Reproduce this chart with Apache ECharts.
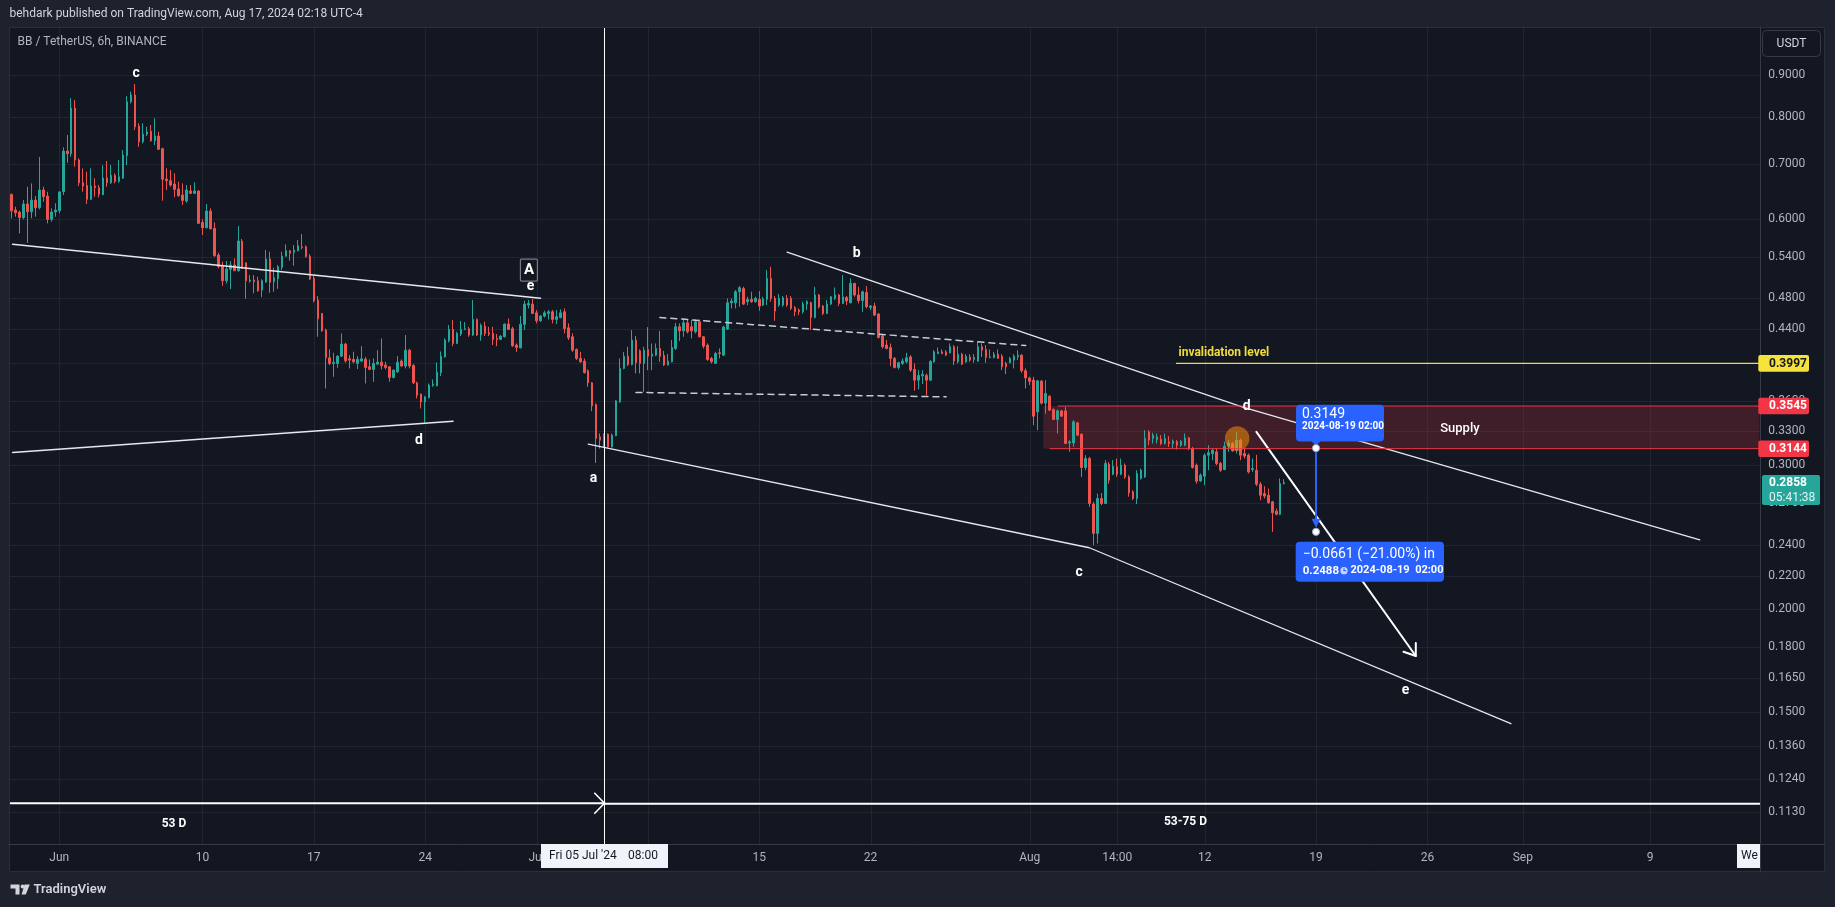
<!DOCTYPE html>
<html>
<head>
<meta charset="utf-8">
<title>BB / TetherUS 6h</title>
<script src="https://cdn.jsdelivr.net/npm/echarts@6.0.0/dist/echarts.min.js"></script>
<style>
html,body{margin:0;padding:0;background:#1e222d;overflow:hidden;}
#chart{width:1835px;height:907px;}
</style>
</head>
<body>
<div id="chart"></div>
<script>
// ---------------- data ----------------
const publishLine = 'behdark published on TradingView.com, Aug 17, 2024 02:18 UTC-4';
const symbolTitle = 'BB / TetherUS, 6h, BINANCE';
const currencyLabel = 'USDT';
const firstCandle = '2024-05-29 02:00';   // 6h bars, chart time UTC-4
const slotCount = 440;                    // bars + empty future slots shown
// [open, high, low, close]
const candles = [
 [0.643,0.645,0.601,0.614],[0.6154,0.6212,0.6040,0.6108],[0.6120,0.6142,0.5763,0.6025],[0.6025,0.6330,0.5995,0.6260],
 [0.6260,0.6572,0.5613,0.6125],[0.6125,0.6634,0.6013,0.6330],[0.6330,0.6402,0.6040,0.6194],[0.6194,0.7145,0.6166,0.6511],
 [0.6511,0.6572,0.6300,0.6390],[0.6402,0.6480,0.5928,0.5995],[0.5995,0.6183,0.5956,0.6120],[0.6120,0.6273,0.6040,0.6154],
 [0.6142,0.6493,0.6097,0.6475],[0.6480,0.7343,0.6420,0.7265],[0.7265,0.7601,0.7032,0.7213],[0.7213,0.8436,0.7151,0.8201],
 [0.8201,0.8388,0.6953,0.7085],[0.7085,0.7118,0.6584,0.6646],[0.6646,0.6921,0.6480,0.6584],[0.6597,0.6856,0.6260,0.6342],
 [0.6342,0.6921,0.6330,0.6584],[0.6584,0.6729,0.6390,0.6553],[0.6553,0.6603,0.6379,0.6433],[0.6425,0.6980,0.6420,0.6735],
 [0.6735,0.7065,0.6572,0.6646],[0.6646,0.6986,0.6622,0.6786],[0.6786,0.6824,0.6634,0.6672],[0.6672,0.7085,0.6646,0.6760],
 [0.6735,0.7287,0.6716,0.7185],[0.7171,0.8481,0.6986,0.8348],[0.8348,0.8588,0.8310,0.8507],[0.8507,0.8775,0.7709,0.7781],
 [0.7796,0.7856,0.7355,0.7460],[0.7460,0.7856,0.7425,0.7622],[0.7622,0.7781,0.7580,0.7666],[0.7680,0.7818,0.7460,0.7481],
 [0.7481,0.7967,0.7390,0.7580],[0.7580,0.7672,0.7287,0.7302],[0.7314,0.7334,0.6318,0.6710],[0.6716,0.6921,0.6511,0.6684],
 [0.6684,0.6888,0.6572,0.6603],[0.6622,0.6824,0.6379,0.6524],[0.6530,0.6665,0.6390,0.6407],[0.6420,0.6634,0.6242,0.6324],
 [0.6312,0.6603,0.6282,0.6511],[0.6493,0.6603,0.6438,0.6451],[0.6451,0.6653,0.6438,0.6493],[0.6493,0.6511,0.5916,0.5928],
 [0.5944,0.5995,0.5736,0.5856],[0.5856,0.6260,0.5845,0.6137],[0.6137,0.6183,0.5828,0.5838],[0.5845,0.5944,0.5396,0.5411],
 [0.5422,0.5457,0.5223,0.5247],[0.5262,0.5321,0.4973,0.5044],[0.5044,0.5331,0.5006,0.5213],[0.5208,0.5331,0.4927,0.5272],
 [0.5272,0.5371,0.5184,0.5188],[0.5188,0.5884,0.5174,0.5640],[0.5640,0.5672,0.5213,0.5223],[0.5306,0.5306,0.4794,0.5044],
 [0.5040,0.5125,0.5016,0.5054],[0.5054,0.5125,0.4868,0.5030],[0.5044,0.5101,0.4890,0.4903],[0.4913,0.5064,0.4816,0.5044],
 [0.5026,0.5499,0.5016,0.5361],[0.5361,0.5473,0.4876,0.5021],[0.5030,0.5232,0.4890,0.5087],[0.5073,0.5272,0.4931,0.5247],
 [0.5237,0.5473,0.5198,0.5405],[0.5405,0.5588,0.5396,0.5488],[0.5488,0.5499,0.5336,0.5448],[0.5464,0.5577,0.5262,0.5499],
 [0.5488,0.5656,0.5479,0.5566],[0.5550,0.5752,0.5510,0.5540],[0.5550,0.5572,0.5386,0.5396],[0.5405,0.5437,0.5054,0.5068],
 [0.5078,0.5111,0.4746,0.4768],[0.4777,0.4831,0.4308,0.4531],[0.4600,0.4608,0.4369,0.4381],[0.4390,0.4406,0.3725,0.4060],
 [0.4060,0.4157,0.3978,0.3997],[0.3997,0.4118,0.3849,0.4008],[0.3997,0.4091,0.3948,0.4079],[0.4079,0.4349,0.4071,0.4220],
 [0.4220,0.4236,0.4004,0.4026],[0.4049,0.4091,0.3941,0.4034],[0.4042,0.4130,0.3997,0.4015],[0.3997,0.4079,0.3933,0.4045],
 [0.4023,0.4196,0.4015,0.4049],[0.4045,0.4071,0.3778,0.3952],[0.3959,0.4042,0.3922,0.3930],[0.3930,0.4053,0.3796,0.3997],
 [0.3989,0.4149,0.3978,0.4011],[0.4011,0.4288,0.3930,0.3970],[0.3978,0.4015,0.3930,0.3952],[0.3959,0.3967,0.3796,0.3842],
 [0.3842,0.3930,0.3831,0.3922],[0.3903,0.4079,0.3893,0.4011],[0.4023,0.4042,0.3959,0.3967],[0.3967,0.4329,0.3941,0.4149],
 [0.4149,0.4164,0.3941,0.3967],[0.3974,0.3989,0.3771,0.3784],[0.3784,0.3796,0.3621,0.3655],[0.3665,0.3672,0.3521,0.3587],
 [0.3587,0.3645,0.3381,0.3637],[0.3630,0.3778,0.3621,0.3760],[0.3760,0.3820,0.3742,0.3771],[0.3752,0.4008,0.3749,0.3897],
 [0.3893,0.4134,0.3856,0.4079],[0.4071,0.4288,0.4064,0.4268],[0.4260,0.4452,0.4240,0.4398],[0.4398,0.4515,0.4196,0.4228],
 [0.4228,0.4369,0.4220,0.4349],[0.4341,0.4503,0.4317,0.4398],[0.4398,0.4490,0.4390,0.4406],[0.4406,0.4431,0.4308,0.4329],
 [0.4329,0.4777,0.4320,0.4524],[0.4524,0.4536,0.4317,0.4329],[0.4329,0.4473,0.4260,0.4448],[0.4439,0.4494,0.4317,0.4349],
 [0.4357,0.4431,0.4317,0.4341],[0.4349,0.4431,0.4208,0.4276],[0.4288,0.4341,0.4196,0.4276],[0.4276,0.4325,0.4268,0.4317],
 [0.4308,0.4473,0.4300,0.4465],[0.4465,0.4536,0.4390,0.4398],[0.4406,0.4431,0.4188,0.4200],[0.4208,0.4228,0.4129,0.4180],
 [0.4176,0.4566,0.4169,0.4461],[0.4461,0.4768,0.4390,0.4723],[0.4710,0.4777,0.4666,0.4732],[0.4723,0.4790,0.4592,0.4600],
 [0.4608,0.4644,0.4473,0.4506],[0.4506,0.4579,0.4494,0.4566],[0.4566,0.4635,0.4549,0.4608],[0.4600,0.4644,0.4524,0.4622],
 [0.4622,0.4644,0.4473,0.4524],[0.4524,0.4644,0.4465,0.4558],[0.4549,0.4653,0.4536,0.4608],[0.4622,0.4666,0.4349,0.4410],
 [0.4418,0.4473,0.4268,0.4296],[0.4308,0.4349,0.4129,0.4149],[0.4157,0.4169,0.4034,0.4053],[0.4053,0.4129,0.4004,0.4015],
 [0.4023,0.4053,0.3886,0.3893],[0.3915,0.3930,0.3742,0.3784],[0.3784,0.3792,0.3494,0.3547],[0.3561,0.3571,0.3021,0.3236],
 [0.3250,0.3281,0.3146,0.3220],[0.3226,0.3281,0.3160,0.3257],[0.3275,0.3281,0.3154,0.3160],[0.3160,0.3281,0.3154,0.3266],
 [0.3260,0.3604,0.3257,0.3597],[0.3587,0.4053,0.3577,0.3941],[0.3941,0.4129,0.3930,0.4079],[0.4079,0.4188,0.3967,0.3985],
 [0.3985,0.4390,0.3974,0.4268],[0.4268,0.4317,0.3886,0.4004],[0.4141,0.4157,0.3886,0.3997],[0.3997,0.4188,0.3689,0.4149],
 [0.4157,0.4427,0.3922,0.4079],[0.4079,0.4228,0.3922,0.4102],[0.4091,0.4228,0.4079,0.4169],[0.4169,0.4378,0.4015,0.4079],
 [0.4087,0.4141,0.3967,0.3978],[0.3978,0.4102,0.3974,0.4023],[0.4015,0.4268,0.4008,0.4180],[0.4169,0.4481,0.4153,0.4431],
 [0.4431,0.4473,0.4256,0.4381],[0.4381,0.4536,0.4308,0.4481],[0.4481,0.4524,0.4349,0.4369],[0.4431,0.4515,0.4288,0.4381],
 [0.4369,0.4524,0.4349,0.4494],[0.4494,0.4524,0.4300,0.4308],[0.4308,0.4317,0.4169,0.4196],[0.4208,0.4228,0.4026,0.4042],
 [0.4053,0.4071,0.3997,0.4015],[0.3997,0.4129,0.3997,0.4110],[0.4118,0.4169,0.4053,0.4110],[0.4091,0.4444,0.4079,0.4427],
 [0.4402,0.4800,0.4390,0.4741],[0.4741,0.4800,0.4666,0.4764],[0.4741,0.4913,0.4666,0.4890],[0.4890,0.4969,0.4688,0.4945],
 [0.4936,0.4959,0.4710,0.4723],[0.4755,0.4821,0.4710,0.4786],[0.4786,0.4890,0.4741,0.4755],[0.4755,0.4821,0.4741,0.4800],
 [0.4786,0.4899,0.4635,0.4697],[0.4710,0.4821,0.4697,0.4790],[0.4786,0.5198,0.4710,0.5078],[0.5078,0.5247,0.4755,0.4800],
 [0.4800,0.4831,0.4506,0.4631],[0.4710,0.4858,0.4688,0.4800],[0.4710,0.4831,0.4688,0.4808],[0.4800,0.4845,0.4688,0.4710],
 [0.4800,0.4831,0.4644,0.4666],[0.4675,0.4697,0.4566,0.4622],[0.4644,0.4666,0.4579,0.4622],[0.4622,0.4755,0.4600,0.4723],
 [0.4723,0.4777,0.4644,0.4755],[0.4741,0.4755,0.4390,0.4549],[0.4549,0.4959,0.4536,0.4845],[0.4845,0.4858,0.4666,0.4688],
 [0.4697,0.4710,0.4579,0.4600],[0.4600,0.4777,0.4592,0.4723],[0.4723,0.4831,0.4710,0.4821],[0.4800,0.4950,0.4777,0.4845],
 [0.4845,0.4858,0.4697,0.4732],[0.4732,0.5125,0.4723,0.4821],[0.4812,0.4831,0.4710,0.4764],[0.4741,0.5078,0.4732,0.5006],
 [0.5006,0.5016,0.4821,0.4845],[0.4845,0.4959,0.4732,0.4768],[0.4768,0.4904,0.4622,0.4890],[0.4881,0.4969,0.4666,0.4688],
 [0.4679,0.4710,0.4644,0.4697],[0.4697,0.4741,0.4566,0.4579],[0.4592,0.4608,0.4288,0.4300],[0.4317,0.4341,0.4169,0.4188],
 [0.4208,0.4268,0.4157,0.4169],[0.4180,0.4228,0.3967,0.4053],[0.4053,0.4071,0.3941,0.3952],[0.3952,0.4015,0.3930,0.4004],
 [0.3997,0.4053,0.3978,0.4023],[0.4015,0.4118,0.3997,0.4060],[0.4071,0.4091,0.3903,0.3922],[0.3930,0.3997,0.3700,0.3813],
 [0.3813,0.3922,0.3715,0.3864],[0.3860,0.3922,0.3771,0.3875],[0.3864,0.3886,0.3655,0.3813],[0.3813,0.4034,0.3806,0.4019],
 [0.4015,0.4149,0.4004,0.4129],[0.4110,0.4180,0.4102,0.4129],[0.4129,0.4157,0.4102,0.4110],[0.4129,0.4149,0.4079,0.4091],
 [0.4118,0.4228,0.4110,0.4188],[0.4188,0.4208,0.3978,0.4023],[0.4015,0.4196,0.3997,0.4102],[0.4102,0.4118,0.3978,0.3989],
 [0.4015,0.4102,0.4004,0.4079],[0.4071,0.4102,0.4015,0.4034],[0.4042,0.4102,0.4004,0.4064],[0.4023,0.4248,0.4015,0.4188],
 [0.4188,0.4228,0.4071,0.4149],[0.4157,0.4208,0.4004,0.4064],[0.4064,0.4157,0.4053,0.4071],[0.4064,0.4129,0.4053,0.4102],
 [0.4102,0.4157,0.4053,0.4053],[0.4079,0.4102,0.3922,0.3959],[0.3997,0.4015,0.3878,0.3959],[0.4004,0.4071,0.3997,0.4053],
 [0.4034,0.4102,0.3941,0.4079],[0.4071,0.4149,0.4034,0.4091],[0.4091,0.4102,0.3893,0.3915],[0.3915,0.3941,0.3725,0.3837],
 [0.3837,0.3849,0.3760,0.3800],[0.3813,0.3849,0.3359,0.3445],[0.3487,0.3813,0.3312,0.3806],[0.3803,0.3813,0.3560,0.3574],
 [0.3574,0.3813,0.3469,0.3672],[0.3645,0.3655,0.3497,0.3504],[0.3511,0.3521,0.3407,0.3414],[0.3414,0.3511,0.3281,0.3497],
 [0.3497,0.3504,0.3439,0.3445],[0.3497,0.3537,0.3190,0.3190],[0.3195,0.3220,0.3116,0.3205],[0.3195,0.3407,0.3160,0.3391],
 [0.3381,0.3391,0.3257,0.3266],[0.3275,0.3281,0.2904,0.2982],[0.2982,0.3087,0.2959,0.3058],[0.3058,0.3073,0.2670,0.2695],
 [0.2690,0.2707,0.2396,0.2477],[0.2477,0.2771,0.2407,0.2733],[0.2733,0.2775,0.2682,0.2695],[0.2695,0.3044,0.2690,0.3016],
 [0.3010,0.3029,0.2850,0.2877],[0.2926,0.3044,0.2918,0.2993],[0.2987,0.3058,0.2904,0.2926],[0.2926,0.3058,0.2918,0.3001],
 [0.3001,0.3016,0.2888,0.2904],[0.2904,0.2918,0.2747,0.2777],[0.2785,0.2797,0.2720,0.2733],[0.2733,0.2959,0.2690,0.2932],
 [0.2891,0.2973,0.2882,0.2959],[0.2904,0.3312,0.2896,0.3235],[0.3297,0.3312,0.3175,0.3220],[0.3235,0.3288,0.3190,0.3266],
 [0.3226,0.3281,0.3190,0.3250],[0.3229,0.3266,0.3175,0.3190],[0.3190,0.3281,0.3181,0.3235],[0.3205,0.3257,0.3160,0.3190],
 [0.3190,0.3226,0.3146,0.3211],[0.3205,0.3220,0.3137,0.3175],[0.3175,0.3220,0.3160,0.3211],[0.3175,0.3281,0.3166,0.3241],
 [0.3241,0.3250,0.3131,0.3146],[0.3146,0.3160,0.2973,0.2982],[0.3001,0.3016,0.2850,0.2869],[0.2871,0.2932,0.2863,0.2918],
 [0.2910,0.3102,0.2837,0.3087],[0.3087,0.3175,0.2959,0.3108],[0.3102,0.3146,0.3044,0.3131],[0.3116,0.3146,0.3001,0.3016],
 [0.3016,0.3029,0.2945,0.2959],[0.2965,0.3205,0.2959,0.3166],[0.3166,0.3220,0.3116,0.3195],[0.3190,0.3205,0.3116,0.3125],
 [0.3131,0.3297,0.3102,0.3220],[0.3220,0.3235,0.3044,0.3087],[0.3102,0.3146,0.3058,0.3079],[0.3087,0.3102,0.2932,0.2945],
 [0.2965,0.3058,0.2945,0.2973],[0.2959,0.3090,0.2829,0.2845],[0.2845,0.2863,0.2720,0.2758],[0.2771,0.2829,0.2733,0.2751],
 [0.2758,0.2810,0.2695,0.2700],[0.2707,0.2715,0.2488,0.2625],[0.2637,0.2657,0.2607,0.2614],[0.2614,0.2891,0.2607,0.2850],
 [0.2850,0.2885,0.2842,0.2858]
];
const timeTicks = [
 ['2024-06-01 02:00','Jun'],['2024-06-10 02:00','10'],['2024-06-17 02:00','17'],['2024-06-24 02:00','24'],
 ['2024-07-01 02:00','Jul'],['2024-07-08 02:00','8'],['2024-07-15 02:00','15'],['2024-07-22 02:00','22'],
 ['2024-08-01 02:00','Aug'],['2024-08-06 14:00','14:00'],['2024-08-12 02:00','12'],['2024-08-19 02:00','19'],
 ['2024-08-26 02:00','26'],['2024-09-01 02:00','Sep'],['2024-09-09 02:00','9']
];
const priceTicks = [0.9,0.8,0.7,0.6,0.54,0.48,0.44,0.40,0.36,0.33,0.30,0.27,0.24,0.22,0.20,0.18,0.165,0.15,0.136,0.124,0.113];
const priceRange = [0.10334, 1.0302];
const lastPrice = 0.2858;
const countdown = '05:41:38';
// drawings
const leftTrendUpper = [['2024-05-29 03:30',0.5588],['2024-07-01 08:00',0.4801]];
const leftTrendLower = [['2024-05-29 03:30',0.3111],['2024-06-25 20:00',0.3397]];
const channelLower = [['2024-07-04 08:00',0.3184],['2024-08-04 20:00',0.2379],['2024-08-31 08:00',0.1450]];
const channelUpper = [['2024-07-16 20:00',0.5467],['2024-08-14 11:30',0.3534],['2024-09-12 05:00',0.2433]];
const rangeTop = [['2024-07-08 20:00',0.4549],['2024-07-31 20:00',0.4203]];
const rangeBottom = [['2024-07-07 08:00',0.3683],['2024-07-26 20:00',0.3638]];
const forecastArrow = [['2024-08-15 08:00',0.3296],['2024-08-25 08:30',0.1754]];
const waveLabels = [
 ['c','2024-06-05 22:00',0.9043],['e','2024-06-30 17:00',0.4969],['d','2024-06-23 16:30',0.3220],
 ['a','2024-07-04 16:00',0.2891],['b','2024-07-21 05:00',0.5448],['d','2024-08-14 17:30',0.3537],
 ['c','2024-08-04 04:30',0.2220],['e','2024-08-24 17:00',0.1592]
];
const boxedLabel = ['A','2024-06-30 14:30',0.5198];
const supplyPrices = [0.3545, 0.3144];
const supplyStart = '2024-08-01 22:30';
const supplyLineStarts = ['2024-08-02 21:00','2024-08-02 08:30'];
const supplyLabel = ['Supply','2024-08-28 03:00',0.3328];
const invalidationPrice = 0.3997;
const invalidationStart = '2024-08-10 07:30';
const invalidationLabel = ['invalidation level','2024-08-10 10:30',0.4117];
const highlightCircle = ['2024-08-14 03:00',0.3235];
const measure = [['2024-08-19 02:00',0.3149],['2024-08-19 02:00',0.2488]];
const measureTexts = ['0.3149','2024-08-19 02:00','\u22120.0661 (\u221221.00%) in','0.2488','2024-08-19  02:00'];
const cycleMarker = '2024-07-05 08:00';
const cycleMarkerText = ["Fri 05 Jul '24", '08:00'];
const cycleArrowPrice = 0.1159;
const cycleLabels = [['53 D','2024-06-08 07:00',0.1094],['53-75 D','2024-08-10 21:00',0.1098]];
const edgeTimeText = 'We';

// ---------------- helpers ----------------
const FONT = 'Roboto, "Noto Sans", sans-serif';
function p2(n){return (n<10?'0':'')+n;}
function parseT(s){const a=s.split(' ');const d=a[0].split('-').map(Number);const t=a[1].split(':').map(Number);return Date.UTC(d[0],d[1]-1,d[2],t[0],t[1]);}
function fmt(ms){const d=new Date(ms);return d.getUTCFullYear()+'-'+p2(d.getUTCMonth()+1)+'-'+p2(d.getUTCDate())+' '+p2(d.getUTCHours())+':'+p2(d.getUTCMinutes());}
const H6 = 6*3600*1000;
const T0 = parseT(firstCandle);
const idx = s => (parseT(s)-T0)/H6;
const categories = Array.from({length:slotCount},(_,i)=>fmt(T0+i*H6));
const tickMap = {}; timeTicks.forEach(t=>{tickMap[t[0]]=t[1];});
const kdata = candles.map(r=>[r[0],r[3],r[2],r[1]]);

const chart = echarts.init(document.getElementById('chart'), null, {renderer:'canvas', width:1835, height:907});
chart.setOption({
  backgroundColor:'#131722',
  animation:false,
  grid:{left:9.59, right:75.53, top:27, bottom:63, containLabel:false, outerBoundsMode:'none'},
  xAxis:[
    {type:'category', data:categories, boundaryGap:true,
     axisLine:{show:false}, axisTick:{show:false}, splitLine:{show:false},
     axisLabel:{interval:(i,v)=>Object.prototype.hasOwnProperty.call(tickMap,v),
                formatter:v=>tickMap[v]||'', color:'#b2b5be', fontSize:12, fontFamily:FONT, margin:8,
                hideOverlap:false}},
    {type:'value', min:-0.5, max:slotCount-0.5, show:false}
  ],
  yAxis:{type:'log', logBase:10, min:priceRange[0], max:priceRange[1], position:'right',
         axisLine:{show:false}, axisTick:{show:false}, axisLabel:{show:false}, splitLine:{show:false}},
  series:[{type:'candlestick', data:kdata, barWidth:2, z:2,
    itemStyle:{color:'#26a69a', color0:'#ef5350', borderColor:'#26a69a', borderColor0:'#ef5350', borderWidth:1}}]
});

// ---------------- drawings through the chart's scales ----------------
const G = [];
const P = (t,p)=>chart.convertToPixel({xAxisIndex:1,yAxisIndex:0},[typeof t==='number'?t:idx(t),p]);
const Xp = t => P(t,0.5)[0];
const Yp = p => P(0,p)[1];
const XL = Xp(-0.5), XR = Xp(slotCount-0.5);
const PL = 9, PT = 27, PR = 1825, PB = 872, AX = 1760, AY = 844;

function L(x1,y1,x2,y2,stroke,w,z,dash){G.push({type:'line',silent:true,z:z,shape:{x1:x1,y1:y1,x2:x2,y2:y2},style:{stroke:stroke,lineWidth:w,lineDash:dash||null,lineCap:'round'}});}
function PLN(pts,stroke,w,z,dash){G.push({type:'polyline',silent:true,z:z,shape:{points:pts},style:{stroke:stroke,lineWidth:w,fill:null,lineDash:dash||null,lineJoin:'round',lineCap:'round'}});}
function R(x,y,w,h,fill,z,stroke,r,lw){G.push({type:'rect',silent:true,z:z,shape:{x:x,y:y,width:w,height:h,r:r||0},style:{fill:fill||'none',stroke:stroke||null,lineWidth:lw||1}});}
function C(cx,cy,r,fill,z,stroke,lw){G.push({type:'circle',silent:true,z:z,shape:{cx:cx,cy:cy,r:r},style:{fill:fill,stroke:stroke||null,lineWidth:lw||1}});}
function PG(pts,fill,z){G.push({type:'polygon',silent:true,z:z,shape:{points:pts},style:{fill:fill}});}
function T(x,y,str,fill,font,align,z){G.push({type:'text',silent:true,z:z||20,x:x,y:y,style:{text:str,fill:fill,font:font,textAlign:align||'left',textVerticalAlign:'middle',align:align||'left',verticalAlign:'middle'}});}
function chevron(sx,sy,tx,ty,len,ang,stroke,w,z){
  const a=Math.atan2(ty-sy,tx-sx);
  PLN([[tx-len*Math.cos(a-ang),ty-len*Math.sin(a-ang)],[tx,ty],[tx-len*Math.cos(a+ang),ty-len*Math.sin(a+ang)]],stroke,w,z);
}
function path(pts,stroke,w,z,dash){PLN(pts.map(q=>P(q[0],q[1])),stroke,w,z,dash);}

// grid
const GRID = '#21252f';
priceTicks.forEach(v=>{const y=Math.round(Yp(v))+0.5; L(PL,y,AX,y,GRID,1,0);});
timeTicks.forEach(t=>{const x=Math.round(Xp(t[0]))+0.5; L(x,PT,x,AY,GRID,1,0);});

// supply zone (under candles)
const supTop = Yp(supplyPrices[0]), supBot = Yp(supplyPrices[1]);
R(Xp(supplyStart), supTop, XR-Xp(supplyStart), supBot-supTop, 'rgba(242,54,69,0.2)', 1);
L(Xp(supplyLineStarts[0]), supTop, XR, supTop, '#f23645', 1, 12);
L(Xp(supplyLineStarts[1]), supBot, XR, supBot, '#f23645', 1, 12);

// invalidation level
const invY = Yp(invalidationPrice);
L(Xp(invalidationStart), invY, XR, invY, '#f2dc3a', 1.2, 12);
{const q=P(invalidationLabel[1],invalidationLabel[2]); T(q[0],q[1],invalidationLabel[0],'#f2dc3a','bold 12px '+FONT,'left',20);}

// trend lines
const WL = '#e6e8ee';
path(leftTrendUpper, WL, 1.5, 10);
path(leftTrendLower, WL, 1.5, 10);
path(channelLower, WL, 1.3, 10);
path(channelUpper, WL, 1.3, 10);
path(rangeTop, '#c8cbd3', 1.5, 10, [6,5]);
path(rangeBottom, '#c8cbd3', 1.5, 10, [6,5]);
{const a=P(forecastArrow[0][0],forecastArrow[0][1]), b=P(forecastArrow[1][0],forecastArrow[1][1]);
 L(a[0],a[1],b[0],b[1],'#ffffff',2,10); chevron(a[0],a[1],b[0],b[1],13,0.62,'#ffffff',2,10);}

// highlight circle
{const q=P(highlightCircle[0],highlightCircle[1]); C(q[0],q[1],12.3,'rgba(255,152,0,0.5)',11);}

// wave labels
waveLabels.forEach(w=>{const q=P(w[1],w[2]); T(q[0],q[1],w[0],'#ffffff','bold 14px '+FONT,'center',20);});
{const q=P(boxedLabel[1],boxedLabel[2]); R(q[0]-8.5,q[1]-11,17,22,'#131722',19,'#787b86',1,1.2); T(q[0],q[1]+0.5,boxedLabel[0],'#ffffff','bold 15px '+FONT,'center',20);}
{const q=P(supplyLabel[1],supplyLabel[2]); T(q[0],q[1],supplyLabel[0],'#ffffff','500 13px '+FONT,'center',20);}

// cycle marker (vertical line + horizontal arrow)
const cx = Math.round(Xp(cycleMarker))+0.5;
L(cx, PT, cx, AY, '#ffffff', 1, 15);
const cyA = Yp(cycleArrowPrice);
L(XL+1, cyA, cx, cyA, '#ffffff', 2, 10);
chevron(XL, cyA, cx, cyA, 14, 0.8, '#ffffff', 1.6, 10);
L(cx, cyA+0.6, XR, cyA+0.6, '#ffffff', 2, 10);
cycleLabels.forEach(c=>{const q=P(c[1],c[2]); T(q[0],q[1],c[0],'#ffffff','bold 12px '+FONT,'center',20);});

// measure tool
{
 const a=P(measure[0][0],measure[0][1]), b=P(measure[1][0],measure[1][1]);
 const x=Math.round(a[0]);
 L(x,a[1],x,b[1]-9,'#2962ff',2,30);
 PG([[x-4.5,b[1]-13],[x+4.5,b[1]-13],[x,b[1]-4]],'#2962ff',30);
 C(x,a[1],3.6,'#ffffff',31,'#9aa4c0',1); C(x,b[1],3.6,'#ffffff',31,'#9aa4c0',1);
 R(x-20,a[1]-43.3,88,36.7,'#2962ff',30,null,4);
 PG([[x-5,a[1]-7],[x+5,a[1]-7],[x,a[1]-2.5]],'#2962ff',30);
 T(x-14,a[1]-33.6,measureTexts[0],'#ffffff','14px '+FONT,'left',32);
 T(x-14,a[1]-21.3,measureTexts[1],'#ffffff','bold 10px '+FONT,'left',32);
 R(x-20.3,b[1]+10,148.3,40,'#2962ff',30,null,4);
 T(x-13.3,b[1]+22.8,measureTexts[2],'#ffffff','14px '+FONT,'left',32);
 T(x-13.3,b[1]+38.8,measureTexts[3],'#ffffff','bold 11.5px '+FONT,'left',32);
 C(x+28,b[1]+38.8,3.6,'#c9d3ff',32);
 L(x+28,b[1]+36.8,x+28,b[1]+38.8,'#2962ff',1,33); L(x+28,b[1]+38.8,x+29.7,b[1]+38.8,'#2962ff',1,33);
 T(x+34.5,b[1]+38.8,measureTexts[4],'#ffffff','bold 11px '+FONT,'left',32);
}

// frame around the panel
R(0,0,1835,PT,'#1e222d',90);
R(0,PB,1835,907-PB,'#1e222d',90);
R(0,0,PL,907,'#1e222d',90);
R(PR,0,1835-PR,907,'#1e222d',90);
R(PL+0.5,PT+0.5,PR-PL-1,PB-PT-1,'none',91,'#2a2e39',0,1);
L(AX+0.5,PT,AX+0.5,PB,'#363a45',1,91);
L(PL,AY+0.5,PR,AY+0.5,'#363a45',1,91);

// header / title / footer
T(9.5,14,publishLine,'#d1d4dc','12px '+FONT,'left',95);
T(17.5,42,symbolTitle,'#b2b5be','12px '+FONT,'left',95);
PG([[10.5,884.5],[19.5,884.5],[19.5,894.5],[15.5,894.5],[15.5,888.5],[10.5,888.5]],'#d1d4dc',95);
C(22.6,886.5,2,'#d1d4dc',95);
PG([[24.5,884.5],[29.8,884.5],[25.8,894.5],[21.6,894.5]],'#d1d4dc',95);
T(33.5,890,'TradingView','#d1d4dc','600 13px '+FONT,'left',95);

// price scale labels
R(1762.5,30.5,58,26,'none',95,'#363a45',4,1);
T(1791.5,44,currencyLabel,'#d1d4dc','12px '+FONT,'center',95);
priceTicks.forEach(v=>{T(1768.3,Yp(v),v.toFixed(4),'#b2b5be','12px '+FONT,'left',95);});
function tag(v,bg,fg,x0,w){const y=Yp(v); R(x0,y-8.3,w,16.6,bg,96,null,2); T(1769,y+0.3,v.toFixed(4),fg,'bold 12px '+FONT,'left',97);}
tag(invalidationPrice,'#f5e23b','#131722',1758.3,50.7);
tag(supplyPrices[0],'#f23645','#ffffff',1758.3,50.7);
tag(supplyPrices[1],'#f23645','#ffffff',1758.3,50.7);
{const y=Yp(lastPrice); R(1762,y-7.6,58,30,'#26a69a',96,null,2);
 T(1769,y+0.3,lastPrice.toFixed(4),'#ffffff','bold 12px '+FONT,'left',97);
 T(1769,y+15,countdown,'#e3f5f2','12px '+FONT,'left',97);}

// time scale boxes
R(cx-63.5,AY,127,24,'#f0f3fa',96,null,0);
T(cx-55.5,AY+12,cycleMarkerText[0],'#131722','12px '+FONT,'left',97);
T(cx+23.5,AY+12,cycleMarkerText[1],'#131722','12px '+FONT,'left',97);
R(1737,AY,23,24,'#f0f3fa',96,null,0);
T(1741,AY+12,edgeTimeText,'#131722','12px '+FONT,'left',97);

chart.setOption({graphic:{elements:G}});
</script>
</body>
</html>
